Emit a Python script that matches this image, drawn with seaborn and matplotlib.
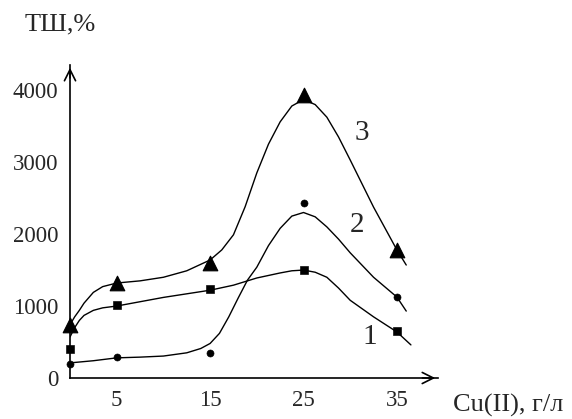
import seaborn as sns
import pandas as pd
import matplotlib.pyplot as plt

# measured points (Cu(II), g/l  vs  TSh, %)
conc = [0, 5, 15, 25, 35]
pts_1 = [400, 1010, 1240, 1500, 660]
pts_2 = [200, 290, 350, 2430, 1130]
pts_3 = [730, 1320, 1600, 3930, 1780]

# smoothed curves
cx_1 = [0, 0.5, 1, 1.5, 2.5, 3.5, 5, 7.5, 10, 12.5, 15, 17.5, 20, 22.5, 23.75, 25, 26.25,
        27.5, 28.75, 30, 32.5, 35, 36.5]
cy_1 = [570, 700, 800, 870, 940, 975, 1000, 1060, 1120, 1170, 1220, 1290, 1390, 1460, 1490,
        1500, 1470, 1400, 1250, 1080, 850, 640, 460]
cx_2 = [0, 2.5, 5, 7.5, 10, 12.5, 14, 15, 16, 17, 18, 19, 20, 21.25, 22.5, 23.75, 25, 26.25,
        27.5, 28.75, 30, 32.5, 35, 36]
cy_2 = [210, 240, 280, 290, 305, 350, 410, 480, 620, 850, 1110, 1360, 1540, 1840, 2080, 2250,
        2300, 2240, 2100, 1930, 1740, 1400, 1125, 930]
cx_3 = [0, 0.5, 1, 1.5, 2.5, 3.5, 5, 7.5, 10, 12.5, 15, 16.25, 17.5, 18.75, 20, 21.25, 22.5,
        23.75, 25, 26.25, 27.5, 28.75, 30, 32.5, 35, 36]
cy_3 = [740, 850, 940, 1040, 1190, 1270, 1320, 1350, 1400, 1490, 1640, 1780, 1990, 2380, 2850,
        3250, 3560, 3780, 3870, 3800, 3625, 3350, 3030, 2375, 1780, 1570]

curves = pd.concat([
    pd.DataFrame({'x': cx_1, 'y': cy_1, 's': '1'}),
    pd.DataFrame({'x': cx_2, 'y': cy_2, 's': '2'}),
    pd.DataFrame({'x': cx_3, 'y': cy_3, 's': '3'}),
])

sns.set_style('white')
plt.rcParams['font.family'] = ['Liberation Serif', 'DejaVu Serif']

fig = plt.figure(figsize=(5.72, 4.19), dpi=100)
ax = fig.add_axes([70 / 572, 41 / 419, 368 / 572, 313 / 419])

sns.lineplot(data=curves, x='x', y='y', units='s', estimator=None, color='black',
             lw=1.0, sort=False, ax=ax)
sns.scatterplot(x=conc, y=pts_1, marker='s', s=30, color='black', edgecolor='black',
                clip_on=False, zorder=5, ax=ax)
sns.scatterplot(x=conc, y=pts_2, marker='o', s=26, color='black', edgecolor='black',
                clip_on=False, zorder=5, ax=ax)
sns.scatterplot(x=conc, y=pts_3, marker='^', s=110, color='black', edgecolor='black',
                clip_on=False, zorder=5, ax=ax)

ax.set_xlim(0, 39.4)
ax.set_ylim(0, 4350)
ax.set_xticks([5, 15, 25, 35])
ax.set_xticks([0, 10, 20, 30], minor=True)
ax.set_yticks([0, 1000, 2000, 3000, 4000])
ax.set_yticks([500, 1500, 2500, 3500], minor=True)
ax.tick_params(which='both', direction='out', color='black', width=1, labelsize=16.5)
ax.tick_params(which='major', length=5)
ax.tick_params(which='minor', length=4)
ax.set_xlabel('')
ax.set_ylabel('')

for side in ['top', 'right']:
    ax.spines[side].set_visible(False)
for side in ['left', 'bottom']:
    ax.spines[side].set_color('black')
    ax.spines[side].set_linewidth(1.2)

# axis arrows
ax.annotate('', xy=(1.0, 0), xycoords='axes fraction', xytext=(0.95, 0),
            arrowprops=dict(arrowstyle='->', color='black', lw=1.2, mutation_scale=20))
ax.annotate('', xy=(0, 1.0), xycoords='axes fraction', xytext=(0, 0.95),
            arrowprops=dict(arrowstyle='->', color='black', lw=1.2, mutation_scale=20))

ax.text(31.2, 3400, '3', fontsize=21, ha='center', va='center')
ax.text(30.7, 2125, '2', fontsize=21, ha='center', va='center')
ax.text(32.1, 570, '1', fontsize=21, ha='center', va='center')

fig.text(60 / 572, 1 - 24 / 419, 'ТШ,%', fontsize=19, ha='center', va='center')
fig.text(508 / 572, 1 - 405 / 419, 'Cu(II), г/л', fontsize=19, ha='center', va='center')

fig.savefig('out.png', dpi=100, facecolor='white')
